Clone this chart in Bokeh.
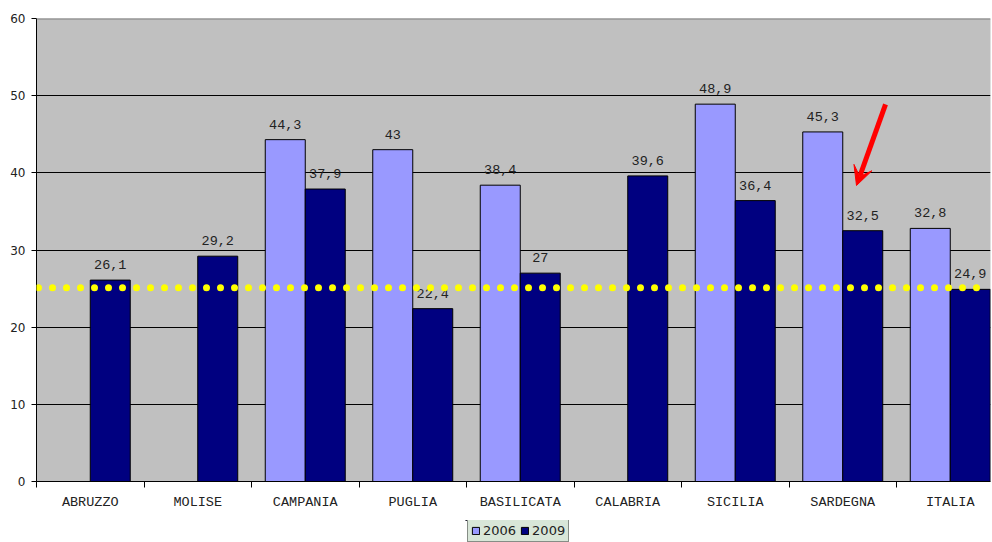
from bokeh.plotting import figure
from bokeh.layouts import column
from bokeh.models import (ColumnDataSource, Range1d, FixedTicker, Span, Arrow, VeeHead,
                          Legend, LegendItem)
from bokeh.core.properties import value
from bokeh.embed import file_html
from bokeh.resources import INLINE

# ---- data ----
regions = ["ABRUZZO", "MOLISE", "CAMPANIA", "PUGLIA", "BASILICATA",
           "CALABRIA", "SICILIA", "SARDEGNA", "ITALIA"]
v2006 = [None, None, 44.3, 43.0, 38.4, None, 48.9, 45.3, 32.8]
v2009 = [26.1, 29.2, 37.9, 22.4, 27.0, 39.6, 36.4, 32.5, 24.9]
series_names = ["2006", "2009"]
series_colors = ["#9999FF", "#000080"]
reference_level = 25.1
y_ticks = [0, 10, 20, 30, 40, 50, 60]

# arrow annotation (category index units, value units)
arrow_start = (7.898, 48.86)
arrow_end = (7.628, 38.36)

BAR_W = 0.372
centers = [i + 0.5 for i in range(len(regions))]


def fmt(v):
    return ("%g" % v).replace(".", ",")


def make_source(vals, shift):
    xs, tops, labels = [], [], []
    for c, v in zip(centers, vals):
        if v is None:
            continue
        xs.append(c + shift)
        tops.append(v)
        labels.append(fmt(v))
    return ColumnDataSource(dict(x=xs, top=tops, label=labels))


src06 = make_source(v2006, -BAR_W / 2)
src09 = make_source(v2009, BAR_W / 2)

p = figure(width=992, height=520, output_backend="svg", toolbar_location=None,
           x_range=Range1d(0, 954 / 107.5), y_range=Range1d(0, 60),
           min_border_left=36, min_border_right=2, min_border_top=18,
           min_border_bottom=39)
p.background_fill_color = "#C0C0C0"
p.border_fill_color = "white"
p.outline_line_color = None

p.vbar(x="x", top="top", width=BAR_W, bottom=0, source=src06,
       fill_color=series_colors[0], line_color="#000000", line_width=1)
p.vbar(x="x", top="top", width=BAR_W, bottom=0, source=src09,
       fill_color=series_colors[1], line_color="#000000", line_width=1)

for src in (src06, src09):
    p.text(x="x", y="top", text="label", source=src, text_align="center",
           text_baseline="bottom", y_offset=-11, text_font=value("Liberation Mono"),
           text_font_size="13.5px", text_color="#222222")

# axes
p.xaxis.ticker = FixedTicker(ticks=centers, minor_ticks=list(range(len(regions) + 1)))
p.xaxis.major_label_overrides = {c: r for c, r in zip(centers, regions)}
p.xaxis.major_tick_line_color = None
p.xaxis.minor_tick_line_color = "black"
p.xaxis.minor_tick_in = 0
p.xaxis.minor_tick_out = 6
p.xaxis.major_label_text_font = "Liberation Mono"
p.xaxis.major_label_text_font_size = "13.5px"
p.xaxis.major_label_text_color = "#222222"
p.xaxis.major_label_standoff = 7
p.xaxis.axis_line_color = "black"

p.yaxis.ticker = FixedTicker(ticks=y_ticks)
p.yaxis.major_label_text_font = "DejaVu Sans"
p.yaxis.major_label_text_font_size = "12px"
p.yaxis.major_label_text_color = "#222222"
p.yaxis.major_tick_in = 0
p.yaxis.major_tick_out = 5
p.yaxis.major_tick_line_color = "black"
p.yaxis.minor_tick_line_color = None
p.yaxis.major_label_standoff = 6
p.yaxis.axis_line_color = "black"

p.xgrid.grid_line_color = None
p.ygrid.ticker = FixedTicker(ticks=y_ticks[1:-1])
p.ygrid.grid_line_color = "#000000"
p.ygrid.grid_line_width = 1

# top border of plot area (gray)
p.add_layout(Span(location=y_ticks[-1], dimension="width", line_color="#808080",
                  line_width=2))

# yellow dotted reference line
p.add_layout(Span(location=reference_level, dimension="width", line_color="#FFFF00",
                  line_width=7, line_dash="0 14", line_dash_offset=-2, line_cap="round"))

# red arrow
p.add_layout(Arrow(end=VeeHead(size=19, fill_color="#FF0000", line_color="#FF0000"),
                   x_start=arrow_start[0], y_start=arrow_start[1],
                   x_end=arrow_end[0], y_end=arrow_end[1],
                   line_color="#FF0000", line_width=5))

# ---- legend strip below the chart ----
lg = figure(width=992, height=22, output_backend="svg", toolbar_location=None,
            x_axis_type=None, y_axis_type=None,
            x_range=Range1d(0, 1), y_range=Range1d(0, 1),
            min_border_left=36, min_border_right=2, min_border_top=0, min_border_bottom=0)
lg.grid.grid_line_color = None
lg.outline_line_color = None
lg.background_fill_color = "white"
lg.border_fill_color = "white"
# swatch-only renderers, placed above the visible range of the strip
leg_r = [lg.vbar(x=[0.5], bottom=[5], top=[6], width=0.1, fill_color=c, line_color="#000000")
         for c in series_colors]

legend = Legend(items=[LegendItem(label=n, renderers=[r]) for n, r in zip(series_names, leg_r)],
                orientation="horizontal", location=(431, 0),
                background_fill_color="#D8E6D8", background_fill_alpha=1.0,
                border_line_color="#333333", border_line_width=1,
                label_text_font="DejaVu Sans", label_text_font_size="13px",
                label_text_color="#222222", glyph_width=9, glyph_height=9,
                label_standoff=3, spacing=4, padding=3, margin=0, label_height=15)
lg.add_layout(legend, "center")

layout = column(p, lg, spacing=0)
open("out.html", "w").write(file_html(layout, INLINE))
